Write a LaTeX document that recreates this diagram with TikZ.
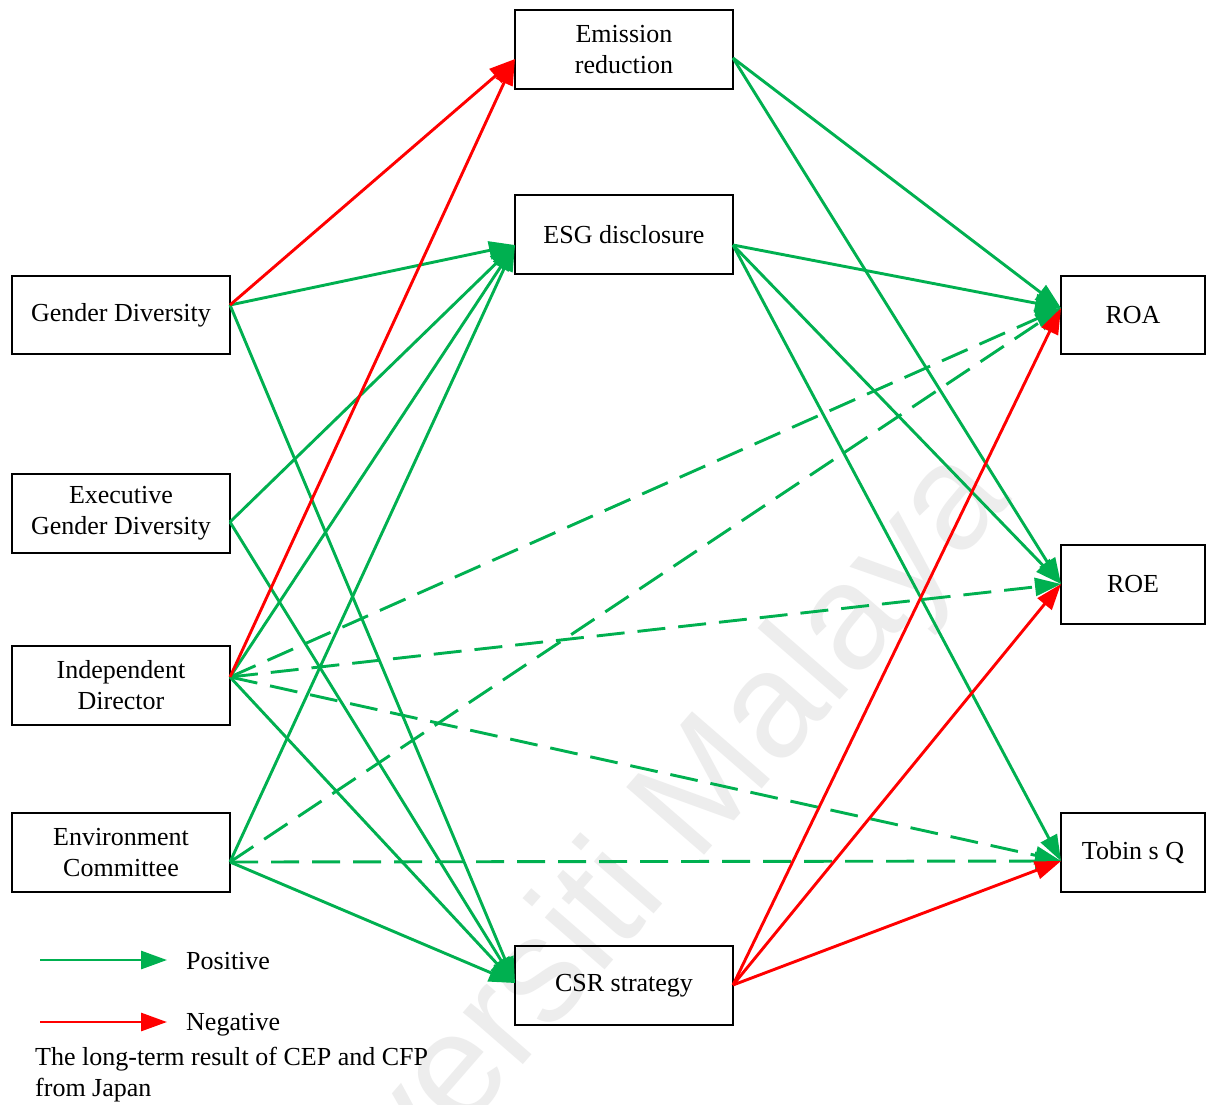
\documentclass[tikz,border=0pt]{standalone}
\usepackage{fontspec}
\setmainfont{Liberation Serif}
\newfontfamily\wmfont{Liberation Sans}
\usetikzlibrary{arrows.meta}
\definecolor{pgreen}{HTML}{00B050}
\definecolor{pred}{HTML}{FF0000}
\begin{document}
\begin{tikzpicture}[x=1pt,y=-1pt,
  font=\fontsize{26}{31}\selectfont,
  box/.style={draw=black,line width=1.4pt,minimum width=218pt,minimum height=79pt,inner sep=0pt,align=center},
  rbox/.style={box,minimum width=144pt},
  posarr/.style={draw=pgreen,line width=2.9pt,-{Triangle[length=26pt,width=18pt]}},
  negarr/.style={draw=pred,line width=2.9pt,-{Triangle[length=26pt,width=18pt]}},
  posdash/.style={posarr,dash pattern=on 28pt off 13pt}
]
\useasboundingbox (0,0) rectangle (1213,1104);
\fill[white] (0,0) rectangle (1213,1104);
% watermark
\node[text=black!7,font=\wmfont\fontsize{150}{150}\selectfont,rotate=49,anchor=center] (wm) at (610,905) {Universiti Malaya};

% nodes
\node[box] (em) at (624,49.5) {Emission\\reduction};
\node[box] (esg) at (624,234.5) {ESG disclosure};
\node[box] (csr) at (624,985.5) {CSR strategy};
\node[box,minimum height=78pt] (gd) at (121,315) {Gender Diversity};
\node[box] (egd) at (121,513.5) {Executive\\Gender Diversity};
\node[box] (id) at (121,685.5) {Independent\\Director};
\node[box] (ec) at (121,852.5) {Environment\\Committee};
\node[rbox,minimum height=78pt] (roa) at (1133,315) {ROA};
\node[rbox] (roe) at (1133,584.5) {ROE};
\node[rbox] (tq) at (1133,852.5) {Tobin s Q};

% connection points
\coordinate (emL) at (515,59);
\coordinate (emR) at (733,58);
\coordinate (esgL) at (515,245);
\coordinate (esgR) at (733,245);
\coordinate (csrL) at (515,983);
\coordinate (csrR) at (733,985);
\coordinate (gdR) at (230,305);
\coordinate (egdR) at (230,522);
\coordinate (idR) at (230,677);
\coordinate (ecR) at (230,862);
\coordinate (roaL) at (1061,308);
\coordinate (roeL) at (1061,584);
\coordinate (tqL) at (1061,861);

% dashed green
\draw[posdash] (idR) -- (roaL);
\draw[posdash] (idR) -- (roeL);
\draw[posdash] (idR) -- (tqL);
\draw[posdash] (ecR) -- (roaL);
\draw[posdash] (ecR) -- (tqL);
% solid green
\draw[posarr] (gdR) -- (esgL);
\draw[posarr] (gdR) -- (csrL);
\draw[posarr] (egdR) -- (esgL);
\draw[posarr] (egdR) -- (csrL);
\draw[posarr] (idR) -- (esgL);
\draw[posarr] (idR) -- (csrL);
\draw[posarr] (ecR) -- (esgL);
\draw[posarr] (ecR) -- (csrL);
\draw[posarr] (emR) -- (roaL);
\draw[posarr] (emR) -- (roeL);
\draw[posarr] (esgR) -- (roaL);
\draw[posarr] (esgR) -- (roeL);
\draw[posarr] (esgR) -- (tqL);
% red
\draw[negarr] (gdR) -- (emL);
\draw[negarr] (idR) -- (emL);
\draw[negarr] (csrR) -- (roaL);
\draw[negarr] (csrR) -- (roeL);
\draw[negarr] (csrR) -- (tqL);

% legend
\coordinate (lp1) at (40,960);
\coordinate (lp2) at (167,960);
\coordinate (ln1) at (40,1022);
\coordinate (ln2) at (167,1022);
\draw[posarr] (lp1) -- (lp2);
\draw[negarr] (ln1) -- (ln2);
\node[anchor=west,inner sep=0pt] (lpos) at (186,961) {Positive};
\node[anchor=west,inner sep=0pt] (lneg) at (186,1025) {Negative};
\node[anchor=west,inner sep=0pt,align=left] (note) at (35,1075) {The long-term result of CEP and CFP\\from Japan};
\end{tikzpicture}
\end{document}
